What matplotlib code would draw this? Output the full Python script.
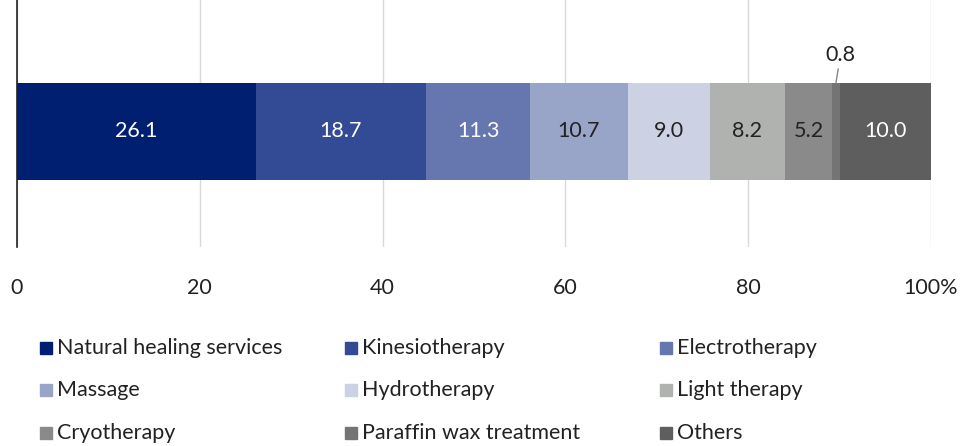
import matplotlib
matplotlib.use("Agg")
import matplotlib.pyplot as plt
from matplotlib.patches import Rectangle

plt.rcParams['font.family'] = ['Lato', 'DejaVu Sans']

# data
categories = ["Natural healing services", "Kinesiotherapy", "Electrotherapy",
              "Massage", "Hydrotherapy", "Light therapy",
              "Cryotherapy", "Paraffin wax treatment", "Others"]
values = [26.1, 18.7, 11.3, 10.7, 9.0, 8.2, 5.2, 0.8, 10.0]
colors = ["#001f70", "#334a94", "#6676ae", "#99a4c9", "#ccd1e4",
          "#b0b2b0", "#8a8a8a", "#747474", "#5e5e5e"]
text_colors = ["white", "white", "white", "#222222", "#222222",
               "#222222", "#222222", "#222222", "white"]
xticks = [0, 20, 40, 60, 80, 100]
xticklabels = ["0", "20", "40", "60", "80", "100%"]

W, H = 973, 446
fs = 15.5
fig = plt.figure(figsize=(W / 100, H / 100), dpi=100)
ax = fig.add_axes([17 / W, 1 - 247 / H, (931 - 17) / W, 247 / H])

left = 0
for i, (v, c) in enumerate(zip(values, colors)):
    ax.barh(0, v, left=left, height=0.393, color=c, edgecolor="none", zorder=2)
    if v >= 2:
        ax.text(left + v / 2, 0, f"{v:.1f}", ha="center", va="center",
                color=text_colors[i], fontsize=fs, zorder=3)
    else:
        # small slice: label above with leader line
        cx = left + v / 2
        ax.annotate(f"{v:.1f}", xy=(cx, 0.1965), xytext=(cx + 0.5, 0.27),
                    ha="center", va="bottom", fontsize=fs, color="#222222",
                    arrowprops=dict(arrowstyle="-", color="#888888", lw=1,
                                    shrinkA=1, shrinkB=0))
    left += v

ax.set_xlim(0, 100)
ax.set_ylim(-0.468, 0.532)
ax.set_xticks(xticks)
ax.set_xticklabels(xticklabels, fontsize=fs, color="#222222")
ax.set_yticks([])
ax.tick_params(axis="x", length=0, pad=22)
ax.grid(axis="x", color="#d9d9d9", lw=1, zorder=0)
for s in ["top", "right", "bottom"]:
    ax.spines[s].set_visible(False)
ax.spines["left"].set_color("#222222")
ax.spines["left"].set_linewidth(1.2)
ax.spines["left"].set_zorder(4)

# legend, 3 columns
col_x = [40, 345, 660]
row_y = [348, 390, 433]
sq = 12
for i, (lab, c) in enumerate(zip(categories, colors)):
    r, k = divmod(i, 3)
    x0, y0 = col_x[k], row_y[r]
    fig.patches.append(Rectangle((x0 / W, 1 - (y0 + sq / 2) / H), sq / W, sq / H,
                                 transform=fig.transFigure, color=c))
    fig.text((x0 + sq + 5) / W, 1 - y0 / H, lab, ha="left", va="center",
             fontsize=fs, color="#222222")

fig.savefig("out.png", dpi=100)
